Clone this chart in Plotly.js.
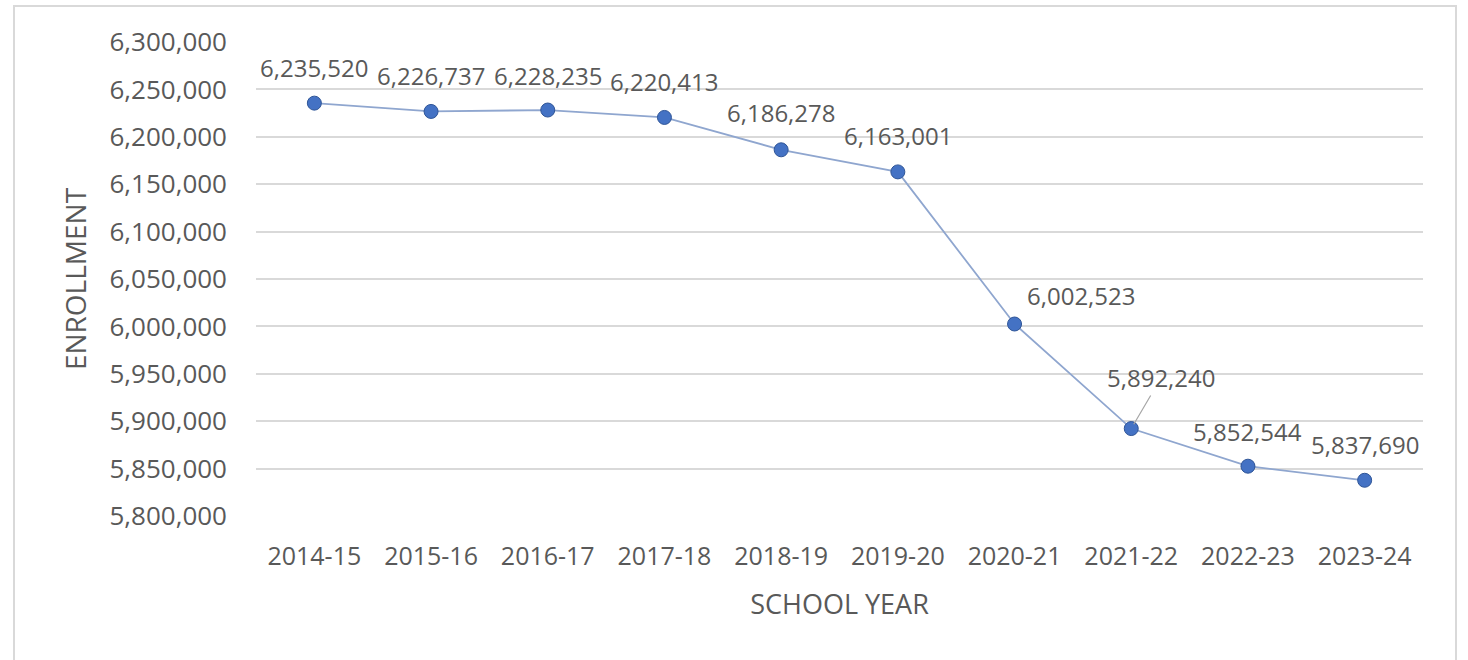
<!DOCTYPE html>
<html>
<head>
<meta charset="utf-8">
<script src="https://cdn.plot.ly/plotly-3.0.1.min.js"></script>
<style>
  html, body { margin: 0; padding: 0; background: #ffffff; overflow: hidden; }
  #frame { position: absolute; left: 13px; top: 5px; width: 1444px; height: 700px; border: 2px solid #d9d9d9; box-sizing: border-box; }
  #chart { position: absolute; left: 0; top: 0; width: 1468px; height: 660px; }
</style>
</head>
<body>
<div id="frame"></div>
<div id="chart"></div>
<script>
const schoolYears = ["2014-15","2015-16","2016-17","2017-18","2018-19","2019-20","2020-21","2021-22","2022-23","2023-24"];
const enrollment = [6235520, 6226737, 6228235, 6220413, 6186278, 6163001, 6002523, 5892240, 5852544, 5837690];
const yTickValues = [5800000, 5850000, 5900000, 5950000, 6000000, 6050000, 6100000, 6150000, 6200000, 6250000, 6300000];
const yTickLabels = yTickValues.map(v => v.toLocaleString("en-US"));
const xAxisTitle = "SCHOOL YEAR";
const yAxisTitle = "ENROLLMENT";

// label offsets (pixels) relative to each point: style only
const labelDX = [0, 0, 0, 0, 0, 0, 66, 30, 0, 0];
const labelDY = [-36, -36, -35, -36, -37, -36, -29, -51, -35, -36];
const leader = [false, false, false, false, false, false, false, true, false, false];

const textColor = "#595959";
const fontFamily = "Open Sans, sans-serif";

const trace = {
  x: schoolYears,
  y: enrollment,
  type: "scatter",
  mode: "lines+markers",
  line: { color: "#8fa6cf", width: 1.8 },
  marker: { color: "#4472c4", size: 14, line: { color: "#2f5597", width: 1 } },
  hoverinfo: "x+y"
};

const annotations = schoolYears.map((yr, i) => ({
  x: yr,
  y: enrollment[i],
  xref: "x", yref: "y",
  text: enrollment[i].toLocaleString("en-US"),
  showarrow: true,
  arrowhead: 0,
  arrowwidth: 1.2,
  arrowcolor: leader[i] ? "#a6a6a6" : "rgba(0,0,0,0)",
  standoff: 5,
  ax: labelDX[i],
  ay: labelDY[i],
  font: { family: fontFamily, size: 24, color: textColor }
}));

const layout = {
  width: 1468,
  height: 660,
  paper_bgcolor: "rgba(0,0,0,0)",
  plot_bgcolor: "rgba(0,0,0,0)",
  margin: { l: 256, r: 45, t: 42, b: 144 },
  showlegend: false,
  font: { family: fontFamily, color: textColor },
  xaxis: {
    type: "category",
    tickvals: schoolYears,
    ticktext: schoolYears,
    range: [-0.5, schoolYears.length - 0.5],
    showgrid: false,
    zeroline: false,
    showline: false,
    ticks: "",
    ticklabelstandoff: 23,
    tickfont: { family: fontFamily, size: 25, color: textColor },
    title: { text: xAxisTitle, font: { family: fontFamily, size: 27, color: textColor }, standoff: 24 }
  },
  yaxis: {
    range: [5800000, 6300000],
    tickvals: yTickValues,
    ticktext: yTickLabels,
    showgrid: true,
    gridcolor: "#d9d9d9",
    gridwidth: 2,
    zeroline: false,
    showline: false,
    ticks: "",
    ticklabelstandoff: 28,
    tickfont: { family: fontFamily, size: 26, color: textColor },
    title: { text: yAxisTitle, font: { family: fontFamily, size: 28, color: textColor }, standoff: 14 }
  },
  annotations: annotations
};

Plotly.newPlot("chart", [trace], layout, { displayModeBar: false, staticPlot: true });
</script>
</body>
</html>
